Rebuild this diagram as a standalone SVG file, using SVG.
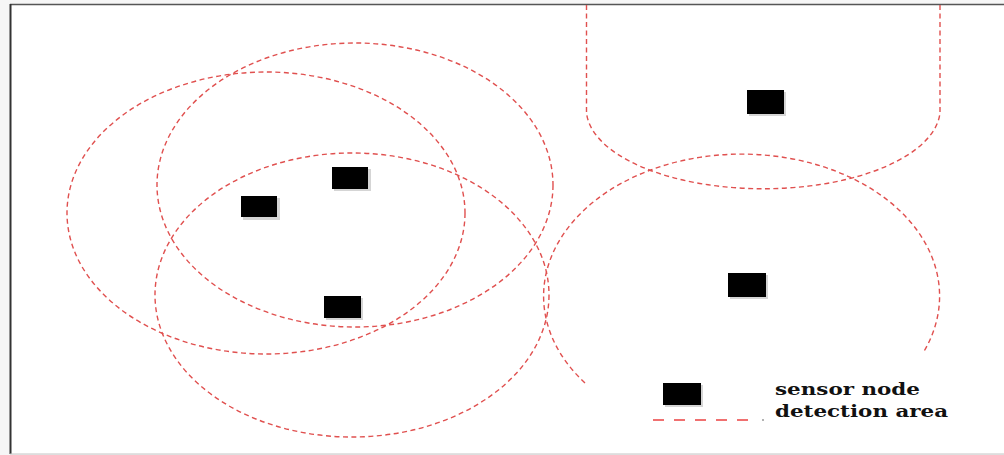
<svg xmlns="http://www.w3.org/2000/svg" width="1004" height="455" viewBox="0 0 1004 455">
  <style>
    .area { fill: none; stroke: #e0504f; stroke-width: 1.4; stroke-dasharray: 5 3.5; }
    .node { fill: #000; }
    .shadow { fill: #888; opacity: 0.35; }
    .lbl { font-family: "DejaVu Serif", "Liberation Serif", serif; font-weight: bold; font-size: 17px; fill: #111; }
  </style>
  <rect x="0" y="0" width="1004" height="455" fill="#f6f6f6"/>
  <rect x="10" y="4" width="994" height="450" fill="#ffffff"/>
  <line x1="10" y1="4.5" x2="1004" y2="4.5" stroke="#555" stroke-width="1.5"/>
  <line x1="10.5" y1="4" x2="10.5" y2="454" stroke="#333" stroke-width="2"/>
  <line x1="10" y1="454" x2="1004" y2="454" stroke="#c4c4c4" stroke-width="1"/>

  <g id="connectors">
    <ellipse id="area1" class="area" cx="266" cy="213" rx="199" ry="141"/>
    <ellipse id="area2" class="area" cx="355" cy="185" rx="198" ry="142"/>
    <ellipse id="area3" class="area" cx="352" cy="295" rx="197" ry="142"/>
    <path id="area4" class="area" d="M586.5,5 V113 A177,80 0 0 0 940,113 V5"/>
    <path id="area5" class="area" d="M585,383 A198,142 0 1 1 923,353"/>
  </g>

  <g id="node1"><rect class="shadow" x="243" y="198" width="37" height="22"/><rect class="node" x="241" y="196" width="36" height="21"/></g>
  <g id="node2"><rect class="shadow" x="334" y="169" width="37" height="22"/><rect class="node" x="332" y="167" width="36" height="22"/></g>
  <g id="node3"><rect class="shadow" x="326" y="298" width="37" height="22"/><rect class="node" x="324" y="296" width="37" height="22"/></g>
  <g id="node4"><rect class="shadow" x="749" y="92" width="37" height="24"/><rect class="node" x="747" y="90" width="37" height="24"/></g>
  <g id="node5"><rect class="shadow" x="730" y="275" width="38" height="24"/><rect class="node" x="728" y="273" width="38" height="24"/></g>

  <g id="legend">
    <rect class="shadow" x="665" y="385" width="38" height="22"/>
    <rect class="node" x="663" y="383" width="38" height="22"/>
    <line x1="653" y1="420" x2="752" y2="420" stroke="#f07070" stroke-width="2" stroke-dasharray="11 10"/>
    <circle cx="763" cy="420" r="1" fill="#999"/>
    <text class="lbl" x="775" y="395" textLength="145" lengthAdjust="spacingAndGlyphs">sensor node</text>
    <text class="lbl" x="775" y="417" textLength="173" lengthAdjust="spacingAndGlyphs">detection area</text>
  </g>
</svg>
